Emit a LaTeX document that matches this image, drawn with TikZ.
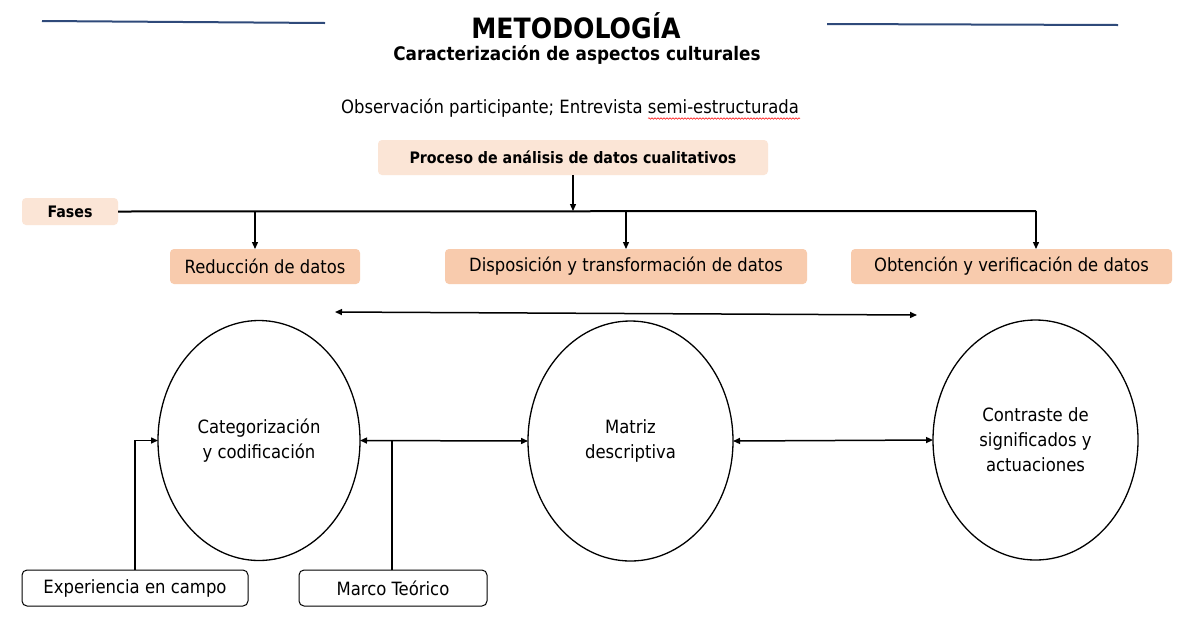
\documentclass[tikz,border=0pt]{standalone}
\usepackage{fontspec}
\setmainfont{DejaVu Sans Condensed}
\usetikzlibrary{arrows.meta,shapes.geometric,decorations.pathmorphing}
\definecolor{peachlight}{HTML}{FBE5D6}
\definecolor{peach}{HTML}{F8CBAD}
\definecolor{navy}{HTML}{2F4A7A}
\begin{document}
\begin{tikzpicture}[x=1pt,y=-1pt,
  every node/.style={inner sep=0pt,outer sep=0pt},
  conn/.style={line width=1.3pt,-{Triangle[length=7pt,width=6pt]}},
  dconn/.style={line width=1.5pt,{Triangle[length=7pt,width=6pt]}-{Triangle[length=7pt,width=6pt]}},
  lightbox/.style={fill=peachlight,rounded corners=4pt,align=center,font=\fontsize{15.8}{18}\selectfont\bfseries},
  phasebox/.style={fill=peach,rounded corners=4pt,align=center,font=\fontsize{18.2}{21}\selectfont},
  whitebox/.style={draw,line width=1pt,rounded corners=5pt,align=center,font=\fontsize{18.3}{21}\selectfont},
  oval/.style={draw,line width=1.3pt,ellipse,align=center,font=\fontsize{18.3}{25}\selectfont}
]
\useasboundingbox (0,0) rectangle (1185,622);
\fill[white] (0,0) rectangle (1185,622);
% decorative lines
\draw[navy,line width=2pt] (42,21) -- (325,23);
\draw[navy,line width=2pt] (827,24) -- (1118,25);
% titles
\node[font=\fontsize{28}{32}\selectfont\bfseries] (title) at (576,26) {METODOLOGÍA};
\node[font=\fontsize{18.7}{22}\selectfont\bfseries] (sub) at (577,55) {Caracterización de aspectos culturales};
\node[font=\fontsize{18.3}{22}\selectfont] (obs) at (570,108) {Observación participante; Entrevista semi-estructurada};
\draw[red,line width=0.5pt,decorate,decoration={snake,amplitude=0.8pt,segment length=3pt}] (648,118.5) -- (800,118.5);
% process box
\node[lightbox,minimum width=390pt,minimum height=35pt] (proc) at (573,157.5) {Proceso de análisis de datos cualitativos};
\node[lightbox,minimum width=96pt,minimum height=27pt] (fases) at (70,211.5) {Fases};
\coordinate (jp) at (573,211);
\coordinate (j1) at (255,211);
\coordinate (j2) at (626,211);
\coordinate (j3) at (1036,211);
\draw[conn] (proc.south -| jp) -- (jp);
\draw[line width=2pt] (fases.east) -- (j3);
% phase boxes
\node[phasebox,minimum width=190pt,minimum height=35pt] (red) at (265,266.5) {Reducción de datos};
\node[phasebox,minimum width=362pt,minimum height=35pt] (dis) at (626,266.5) {Disposición y transformación de datos};
\node[phasebox,minimum width=321pt,minimum height=35pt] (obt) at (1011.5,266.5) {Obtención y verificación de datos};
\draw[conn] (j1) -- (j1 |- red.north);
\draw[conn] (j2) -- (j2 |- dis.north);
\draw[conn] (j3) -- (j3 |- obt.north);
% long double arrow
\coordinate (la) at (335,312);
\coordinate (lb) at (917,315);
\draw[dconn] (la) -- (lb);
% ellipses
\node[oval,minimum width=202pt,minimum height=240pt] (cat) at (259,440.5) {Categorización\\y codificación};
\node[oval,minimum width=205pt,minimum height=240pt] (mat) at (630.5,441) {Matriz\\descriptiva};
\node[oval,minimum width=205pt,minimum height=240pt] (con) at (1035.5,440) {Contraste de\\significados y\\actuaciones};
\draw[dconn] (cat.east) -- (mat.west);
\draw[dconn] (mat.east) -- (con.west);
% bottom boxes
\node[whitebox,minimum width=226pt,minimum height=36pt] (exp) at (135,588) {Experiencia en campo};
\node[whitebox,minimum width=188pt,minimum height=36pt] (mar) at (393,588) {Marco Teórico};
\draw[conn,line width=1.5pt] (exp.north) |- (cat.west);
\draw[line width=1.5pt] (mar.north -| 392,0) -- (392,441);
\end{tikzpicture}
\end{document}
